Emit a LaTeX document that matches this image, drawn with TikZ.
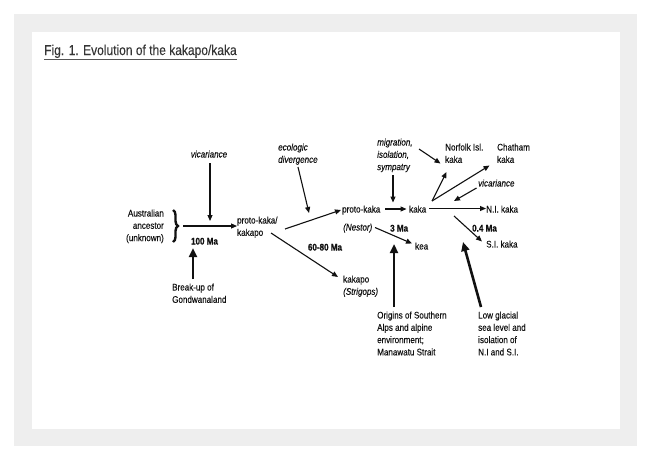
\documentclass[tikz,border=0pt]{standalone}
\usepackage{fontspec}
\setmainfont[FakeStretch=0.84, UprightFeatures={FakeBold=0.15}, ItalicFeatures={FakeBold=0.15}]{Liberation Sans}
\newfontfamily\mabold[FakeStretch=0.84, FakeBold=0.8]{Liberation Sans Bold}
\usetikzlibrary{arrows.meta,decorations.pathreplacing}
\definecolor{panelgray}{HTML}{EEEEEE}
\definecolor{ink}{HTML}{111111}
\definecolor{rulegray}{HTML}{555555}
\tikzset{
  lbl/.style={inner sep=0pt, font=\fontsize{9.6}{12.3}\selectfont, text=ink, align=left, anchor=base west},
  lblr/.style={lbl, align=right, anchor=base east},
  lblc/.style={lbl, align=center, anchor=base},
  ital/.style={font=\fontsize{9.6}{12.3}\selectfont\itshape},
  ma/.style={font=\fontsize{9.6}{12.3}\selectfont\mabold},
  arr/.style={draw=ink, line width=1.1pt, -{Triangle[length=6pt,width=5pt]}},
  thickarr/.style={draw=ink, line width=2.6pt, -{Triangle[length=9pt,width=8pt]}},
}
\begin{document}
\begin{tikzpicture}[x=1pt,y=-1pt]
\useasboundingbox (0,0) rectangle (652,461);
\fill[panelgray] (14,14) rectangle (637,446);
\fill[white] (32,32) rectangle (620,429);
% title
\node[lbl, font=\fontsize{14.3}{17}\selectfont, text=ink!85] (title) at (44,55) {Fig. 1. Evolution of the kakapo/kaka};
\draw[rulegray, line width=1pt] (44,59.5) -- (237,59.5);

% left part (multi-line nodes are placed by the baseline of their last line)
\node[lblr] (aus) at (164,241.1) {Australian\\ancestor\\(unknown)};
\coordinate (braceTop) at (173,210);
\coordinate (braceBot) at (173,242);
\draw[ink, line width=2.4pt, decorate, decoration={brace, amplitude=5pt}] (braceTop) -- (braceBot);
\node[lblc, ital] (vic1) at (209,157.5) {vicariance};
\coordinate (vicEnd) at (210,221);
\coordinate (hStart) at (183,226);
\node[lbl] (pkk) at (237,235.8) {proto-kaka/\\kakapo};
\draw[arr] (hStart) -- (pkk.west |- hStart);
\coordinate (vicStart) at (210,163);
\draw[arr] (vicStart) -- (vicEnd);
\node[lblc, ma] (ma100) at (204.5,244.5) {100 Ma};
\node[lbl] (gond) at (172,302.8) {Break-up of\\Gondwanaland};
\coordinate (gondTip) at (193,248);
\coordinate (gondStart) at (193,279);
\draw[thickarr] (gondStart) -- (gondTip);

% proto-kaka / kakapo split
\node[lbl, ital] (eco) at (278,162.8) {ecologic\\divergence};
\coordinate (ecoStart) at (298,167);
\coordinate (ecoEnd) at (309,213);
\draw[arr] (ecoStart) -- (ecoEnd);
\node[lbl] (pk) at (342,212.5) {proto-kaka};
\node[lbl, ital] (nestor) at (343,230.5) {(Nestor)};
\coordinate (pkkA) at (285,229);
\coordinate (pkIn) at (341,210);
\draw[arr] (pkkA) -- (pkIn);
\node[lblc, ma] (ma6080) at (325,250.5) {60-80 Ma};
\node[lbl] (kakapo) at (343,294.8) {kakapo\\\textit{(Strigops)}};
\coordinate (pkkB) at (271,233);
\coordinate (kakapoIn) at (338,277);
\draw[arr] (pkkB) -- (kakapoIn);

% kaka
\node[lbl, ital] (mig) at (377,170.1) {migration,\\isolation,\\sympatry};
\coordinate (migStart) at (393,175);
\coordinate (migEnd) at (393,202.5);
\draw[arr] (migStart) -- (migEnd);
\node[lbl] (kaka) at (409,212.5) {kaka};
\coordinate (pkOut) at (385,209);
\coordinate (kakaIn) at (406.5,209);
\draw[arr] (pkOut) -- (kakaIn);
\node[lbl] (nik) at (486,212.5) {N.I. kaka};
\coordinate (kakaOut) at (429,208.5);
\draw[arr] (kakaOut) -- (nik.west |- kakaOut);
\node[lbl, ma] (ma3) at (390,231.5) {3 Ma};
\node[lbl] (kea) at (415,249.5) {kea};
\coordinate (keaStart) at (375,227.5);
\coordinate (keaEnd) at (412,243.5);
\draw[arr] (keaStart) -- (keaEnd);
\node[lbl, ma] (ma04) at (472,231.5) {0.4 Ma};
\node[lbl] (sik) at (486,247.5) {S.I. kaka};
\coordinate (sikStart) at (454,216);
\coordinate (sikEnd) at (482,241.5);
\draw[arr] (sikStart) -- (sikEnd);
\node[lbl] (nor) at (445,162.8) {Norfolk Isl.\\kaka};
\node[lbl] (cha) at (497,162.8) {Chatham\\kaka};
\coordinate (fork) at (432,201);
\coordinate (norIn) at (446.5,172);
\coordinate (chaIn) at (489.5,165.5);
\draw[arr] (fork) -- (norIn);
\draw[arr] (fork) -- (chaIn);
\coordinate (migNorStart) at (419,149);
\coordinate (migNorEnd) at (440.5,163.5);
\draw[arr] (migNorStart) -- (migNorEnd);
\node[lbl, ital] (vic2) at (478,186.5) {vicariance};
\coordinate (vic2Start) at (476.5,188);
\coordinate (vic2End) at (454,201);
\draw[arr] (vic2Start) -- (vic2End);

% bottom causes
\node[lbl] (alps) at (377,355.4) {Origins of Southern\\Alps and alpine\\environment;\\Manawatu Strait};
\coordinate (alpsStart) at (394,307);
\coordinate (alpsTip) at (394,244);
\draw[thickarr] (alpsStart) -- (alpsTip);
\node[lbl] (glac) at (478,355.4) {Low glacial\\sea level and\\isolation of\\N.I and S.I.};
\coordinate (glacStart) at (481,307);
\coordinate (glacTip) at (463,242);
\draw[thickarr] (glacStart) -- (glacTip);
\end{tikzpicture}
\end{document}
